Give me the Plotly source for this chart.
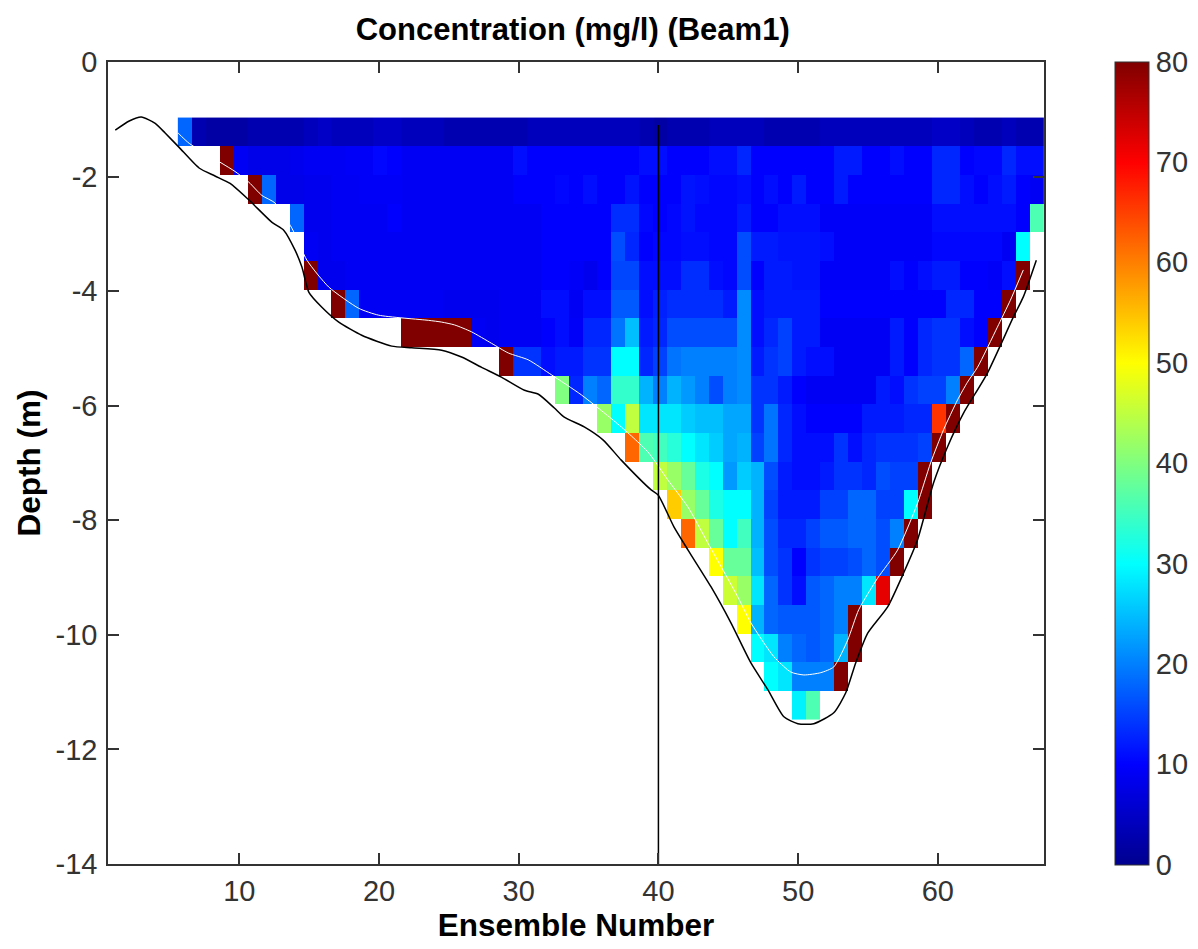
import plotly.graph_objects as go

_ = None

# Ensemble numbers that carry data (first = 6, last = 67)
ensembles = list(range(6, 68))
# Depth at the centre of each bin (m)
bin_depths = [-1.22, -1.72, -2.22, -2.72, -3.22, -3.72, -4.22, -4.72, -5.22, -5.72, -6.22,
              -6.72, -7.22, -7.72, -8.22, -8.72, -9.22, -9.72, -10.22, -10.72, -11.22]

# Concentration (mg/l): one list per depth bin, ensembles 6..67
r0 = [18,3,2,2,2,3,3,3,3,4, 5,4,4,4,5,5,4,4,4,3, 3,3,3,3,3,4,4,4,4,4,
      4,4,4,3,2,3,3,3,4,4, 4,4,3,3,3,3,4,4,4,4, 4,4,4,4,5,5,4,3,3,4, 3,3]
r1 = [_,_,_,80,9,8,8,8,8.5,9, 9,9,9.5,9.5,10.5,10,9,9,9,9, 9,9,9,9,11,10,10,10,10,10,
      10,10,10,11,11,10,10,10,11,11, 13,10,10,10,10,10,10,12,12,10, 10,11,10,10,13,13,10,10.5,10.5,13, 11,11]
r2 = [_,_,_,_,_,80,18,8,8,8.5, 8.5,9,9,9.5,9.5,9.5,9,9,9,9, 9,9,9,9,10,10,10,10.5,10,11,
      10,10,11.5,10,10,10,11.5,11,10.5,10.5, 11,10,11,10,12,10,10,12,10,10, 10,10,10,10,13,13,11,10,11,12, 10,9]
r3 = [_,_,_,_,_,_,_,_,18,8.5, 8.5,9,9,9,9,10,9,9,9,9, 9,9,9,9,9,9,10,10,10,10,
      10,13.5,13.5,10.5,10,10.5,11.5,10.5,10.5,10.5, 12,10,10,11,11,11,9.5,9.5,9.5,9.5, 9.5,9.5,9.5,9.5,11,11,11,11,11,11, 10,36]
r4 = [_,_,_,_,_,_,_,_,_,9, 8.5,9,9,9,9,9,9,9,9,9, 9,9,9,9,9,9,10,10,10,10,
      10,16,13,10,10.5,10.5,11,11,10.5,10.5, 16,12,12,11.5,11.5,11.5,11,9.5,9.5,9.5, 9.5,9.5,9.5,9.5,10.5,10.5,10.5,10.5,10.5,9, 30,_]
r5 = [_,_,_,_,_,_,_,_,_,80, 8.5,8.5,9,9,9,9,9,9,9,9, 9,9,9,9,9,9,10,10,9.5,8.5,
      10,15.5,15.5,11,11,11,13.5,13.5,11,10.5, 16,10,12,12,11.5,11.5,9.5,9.5,9.5,9.5, 9.5,11,10,11,12,12,10,10,9.5,11, 80,_]
r6 = [_,_,_,_,_,_,_,_,_,_, _,80,18,9,9,9,9,9,9,8.5, 8.5,8.5,8.5,9,9,9,11,11,9,11,
      11,17,17,11,12.5,13.5,13.5,13.5,13.5,12, 21,11,12,12,12,12,10,10,10,10, 10,10,10,10,10,13,13,10,10,80, _,_]
r7 = [_,_,_,_,_,_,_,_,_,_, _,_,_,_,_,_,80,80,80,80, 80,9,8.5,9,9,9,10,11,9.5,13,
      13,19,25,12,13,16,16,16,16,16, 21,11,13,15,12,12,9,9,9,9, 9,12,10,13,14,14,11,10,80,_, _,_]
r8 = [_,_,_,_,_,_,_,_,_,_, _,_,_,_,_,_,_,_,_,_, _,_,_,80,14,14,11,12,12,14,
      14,30,30,13,15,19,20,20,20,20, 21,12,14,15,12,11,11,9,9,9, 9,12,10,13,14,14,18,80,_,_, _,_]
r9 = [_,_,_,_,_,_,_,_,_,_, _,_,_,_,_,_,_,_,_,_, _,_,_,_,_,_,_,40,13,20,
      18,34,34,24,20,24,22,20,16,20, 21,14,14,12,10,9,9,9,9,9, 12,11,14,15,15,20,80,_,_,_, _,_]
r10 = [_,_,_,_,_,_,_,_,_,_, _,_,_,_,_,_,_,_,_,_, _,_,_,_,_,_,_,_,_,_,
       42,30,45,28,28,28,26,25,25,23, 23,14,19,13,11,10,10,10,10,12, 12,12,13,13,66,80,_,_,_,_, _,_]
r11 = [_,_,_,_,_,_,_,_,_,_, _,_,_,_,_,_,_,_,_,_, _,_,_,_,_,_,_,_,_,_,
       _,_,62,36,35,33,30,28,26,23, 24,15,19,13,11,11,11,14,11,13, 14,14,14,15,80,_,_,_,_,_, _,_]
r12 = [_,_,_,_,_,_,_,_,_,_, _,_,_,_,_,_,_,_,_,_, _,_,_,_,_,_,_,_,_,_,
       _,_,_,_,45,42,38,32,30,22, 26,24,16,12,11,11,12,14,14,13, 16,15,15,80,_,_,_,_,_,_, _,_]
r13 = [_,_,_,_,_,_,_,_,_,_, _,_,_,_,_,_,_,_,_,_, _,_,_,_,_,_,_,_,_,_,
       _,_,_,_,_,54,42,38,32,30, 30,24,15,12,12,12,15,15,18,18, 15,15,30,80,_,_,_,_,_,_, _,_]
r14 = [_,_,_,_,_,_,_,_,_,_, _,_,_,_,_,_,_,_,_,_, _,_,_,_,_,_,_,_,_,_,
       _,_,_,_,_,_,62,45,38,30, 35,24,16,13,13,15,17,17,18,18, 16,20,80,_,_,_,_,_,_,_, _,_]
r15 = [_,_,_,_,_,_,_,_,_,_, _,_,_,_,_,_,_,_,_,_, _,_,_,_,_,_,_,_,_,_,
       _,_,_,_,_,_,_,_,50,38, 38,25,16,14,10,14,15,15,16,18, 16,80,_,_,_,_,_,_,_,_, _,_]
r16 = [_,_,_,_,_,_,_,_,_,_, _,_,_,_,_,_,_,_,_,_, _,_,_,_,_,_,_,_,_,_,
       _,_,_,_,_,_,_,_,_,46, 42,28,18,14,11,17,18,20,20,28, 72,_,_,_,_,_,_,_,_,_, _,_]
r17 = [_,_,_,_,_,_,_,_,_,_, _,_,_,_,_,_,_,_,_,_, _,_,_,_,_,_,_,_,_,_,
       _,_,_,_,_,_,_,_,_,_, 50,24,18,17,17,17,18,20,80,_, _,_,_,_,_,_,_,_,_,_, _,_]
r18 = [_,_,_,_,_,_,_,_,_,_, _,_,_,_,_,_,_,_,_,_, _,_,_,_,_,_,_,_,_,_,
       _,_,_,_,_,_,_,_,_,_, _,30,28,20,18,17,18,24,80,_, _,_,_,_,_,_,_,_,_,_, _,_]
r19 = [_,_,_,_,_,_,_,_,_,_, _,_,_,_,_,_,_,_,_,_, _,_,_,_,_,_,_,_,_,_,
       _,_,_,_,_,_,_,_,_,_, _,_,30,28,20,20,20,80,_,_, _,_,_,_,_,_,_,_,_,_, _,_]
r20 = [_,_,_,_,_,_,_,_,_,_, _,_,_,_,_,_,_,_,_,_, _,_,_,_,_,_,_,_,_,_,
       _,_,_,_,_,_,_,_,_,_, _,_,_,_,29,36,_,_,_,_, _,_,_,_,_,_,_,_,_,_, _,_]
concentration = [r0, r1, r2, r3, r4, r5, r6, r7, r8, r9, r10, r11, r12, r13, r14,
                 r15, r16, r17, r18, r19, r20]

# Bottom track (black line)
bottom_x = [1.12, 2.12, 2.98, 3.98, 4.69, 5.69, 7.12, 8.26, 9.34, 10.69, 12.34, 13.19, 13.98, 14.48,
            14.98, 15.91, 17.12, 18.76, 20.91, 22.34, 24.48, 25.91, 27.34, 28.76, 30.41, 31.41, 32.55,
            33.26, 34.69, 36.05, 37.34, 39.48, 39.98, 41.12, 42.12, 43.76, 45.19, 46.62, 47.84, 48.98,
            49.98, 51.12, 52.55, 53.41, 54.12, 54.98, 56.41, 57.55, 58.55, 59.69, 60.69, 61.84, 63.55,
            65.41, 66.12, 67.05]
bottom_y = [-1.19, -1.03, -0.96, -1.07, -1.24, -1.49, -1.85, -1.99, -2.12, -2.41, -2.80, -2.94, -3.28,
            -3.58, -4.02, -4.28, -4.54, -4.77, -4.96, -4.99, -5.03, -5.15, -5.33, -5.50, -5.73, -5.80,
            -6.04, -6.20, -6.37, -6.60, -6.95, -7.47, -7.56, -8.12, -8.52, -9.16, -9.79, -10.49, -10.96,
            -11.43, -11.55, -11.55, -11.36, -11.01, -10.49, -9.97, -9.51, -8.92, -8.34, -7.35, -6.72,
            -6.13, -5.43, -4.45, -4.10, -3.46]

# Side-lobe cut-off (white line)
cutoff_x = [5.62, 6.41, 8.76, 9.69, 10.69, 11.62, 12.55, 13.76, 14.84, 16.41, 18.55, 19.98, 23.55, 24.48,
            25.41, 26.62, 28.05, 29.26, 30.69, 32.34, 34.48, 37.34, 39.26, 40.69, 42.12, 43.55, 45.69,
            46.62, 48.26, 49.48, 50.41, 51.62, 52.55, 53.55, 54.34, 55.69, 57.12, 58.55, 59.48, 60.41,
            61.41, 62.12, 62.84, 64.26, 65.19, 66.12]
cutoff_y = [-1.24, -1.42, -1.77, -1.91, -2.10, -2.33, -2.46, -2.90, -3.46, -3.93, -4.30, -4.42, -4.51,
            -4.54, -4.59, -4.71, -4.91, -5.08, -5.20, -5.46, -5.81, -6.37, -6.81, -7.30, -7.77, -8.40,
            -9.34, -9.79, -10.38, -10.65, -10.70, -10.66, -10.56, -10.09, -9.56, -9.01, -8.52, -7.70,
            -7.00, -6.42, -5.90, -5.59, -5.33, -4.63, -4.16, -3.63]

# Selected ensemble marker
marker_x = [40, 40]
marker_y = [-14, -1.1]

x_ticks = [10, 20, 30, 40, 50, 60]
y_ticks = [0, -2, -4, -6, -8, -10, -12, -14]
y_labels = ["0", "-2", "-4", "-6", "-8", "-10", "-12", "-14"]
cbar_ticks = [0, 10, 20, 30, 40, 50, 60, 70, 80]

jet = [[0.0, "rgb(0,0,143)"], [0.125, "rgb(0,0,255)"], [0.375, "rgb(0,255,255)"],
       [0.625, "rgb(255,255,0)"], [0.875, "rgb(255,0,0)"], [1.0, "rgb(128,0,0)"]]

FONT = "Liberation Sans, Arial, sans-serif"
AXC = "#333333"
CELL_SHIFT = 0.1  # cells run from k-0.4 to k+0.6
TICK_SIZE = 29
LABEL_SIZE = 31.5

fig = go.Figure()
fig.add_trace(go.Heatmap(
    x=[k + CELL_SHIFT for k in ensembles], y=bin_depths, z=concentration,
    colorscale=jet, zmin=0, zmax=80, hoverongaps=False,
    colorbar=dict(x=1.0758, xanchor="left", xref="paper", y=0.5, yanchor="middle",
                  lenmode="pixels", len=803, thicknessmode="pixels", thickness=34,
                  ypad=0, xpad=0, outlinecolor=AXC, outlinewidth=1, ticks="",
                  tickvals=cbar_ticks, ticklabelposition="outside",
                  tickfont=dict(family=FONT, size=TICK_SIZE, color=AXC)),
))
fig.add_trace(go.Scatter(x=cutoff_x, y=cutoff_y, mode="lines",
                         line=dict(color="white", width=1, shape="spline", smoothing=0.6),
                         showlegend=False))
fig.add_trace(go.Scatter(x=bottom_x, y=bottom_y, mode="lines",
                         line=dict(color="black", width=1.5, shape="spline", smoothing=0.6),
                         showlegend=False))
fig.add_trace(go.Scatter(x=marker_x, y=marker_y, mode="lines",
                         line=dict(color="black", width=1.5), showlegend=False))

fig.update_layout(
    width=1190, height=941, autosize=False,
    margin=dict(l=99.5, r=154, t=54, b=84.5),
    paper_bgcolor="white", plot_bgcolor="white", showlegend=False,
    font=dict(family=FONT, color=AXC),
    title=dict(text="Concentration (mg/l) (Beam1)", xref="paper", x=0.4965, xanchor="center",
               yref="container", y=1 - 21 / 941, yanchor="middle",
               font=dict(family=FONT, size=LABEL_SIZE - 0.5, color="black", weight="bold")),
    xaxis=dict(range=[0.6, 67.6], tickvals=x_ticks, ticks="inside", ticklen=11, tickwidth=1.5,
               tickcolor=AXC, showline=True, linecolor=AXC, linewidth=1.5, mirror="ticks",
               showgrid=False, zeroline=False,
               tickfont=dict(family=FONT, size=TICK_SIZE, color=AXC),
               title=dict(text="Ensemble Number", standoff=4,
                          font=dict(family=FONT, size=LABEL_SIZE, color="black", weight="bold"))),
    yaxis=dict(range=[-14, 0], tickvals=y_ticks, ticktext=y_labels, ticks="inside", ticklen=11,
               tickwidth=1.5, tickcolor=AXC, showline=True, linecolor=AXC, linewidth=1.5,
               mirror="ticks", showgrid=False, zeroline=False, ticklabelstandoff=3,
               tickfont=dict(family=FONT, size=TICK_SIZE, color=AXC)),
    annotations=[dict(text="Depth (m)", textangle=-90, xref="paper", yref="paper",
                      x=-0.0849, y=0.5, xanchor="center", yanchor="middle", showarrow=False,
                      font=dict(family=FONT, size=LABEL_SIZE, color="black", weight="bold"))],
)

fig.write_html("out.html")
